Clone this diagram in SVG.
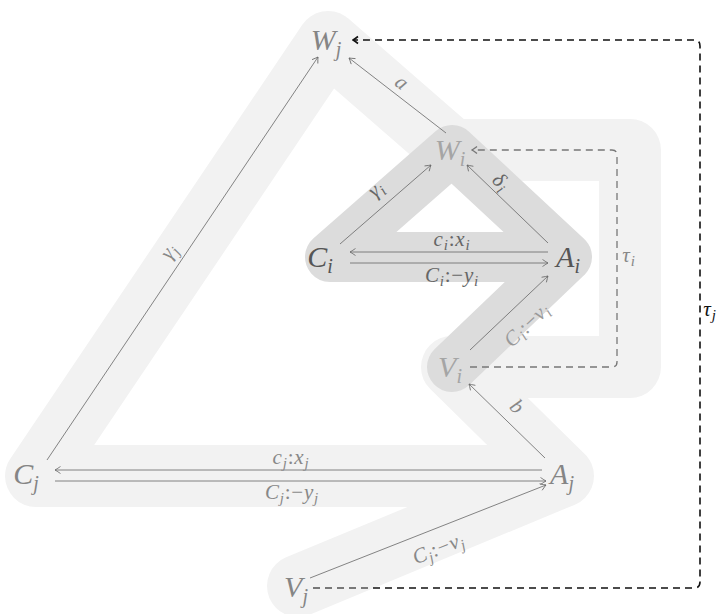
<svg xmlns="http://www.w3.org/2000/svg" width="719" height="614" viewBox="0 0 719 614">
<style>
.bandL{fill:none;stroke:#f2f2f2;stroke-width:62;stroke-linejoin:round;stroke-linecap:round}
.bandD{fill:none;stroke:#dcdcdc;stroke-width:50;stroke-linejoin:round;stroke-linecap:round}
.e{fill:none;stroke:#666;stroke-width:0.8;marker-end:url(#ah)}
.nd{font-family:"Liberation Serif","Times New Roman",serif;font-style:italic;font-size:30px;text-anchor:middle}
.lb{font-family:"Liberation Serif","Times New Roman",serif;font-size:21px;letter-spacing:0.8px;text-anchor:middle}
.it{font-style:italic}
.s{font-size:15px;font-style:italic}
.ns{font-size:20px}
</style>
<defs>
<marker id="ah" viewBox="-7 -5 8 10" markerWidth="8" markerHeight="10" refX="0" refY="0" orient="auto" markerUnits="userSpaceOnUse">
<path d="M-5.5,-3.5 Q-1.5,-0.8 0,0 Q-1.5,0.8 -5.5,3.5" fill="none" stroke="#666" stroke-width="0.8"/>
</marker>
<marker id="ahk" viewBox="-7 -5 8 10" markerWidth="8" markerHeight="10" refX="0" refY="0" orient="auto" markerUnits="userSpaceOnUse">
<path d="M-5,-3.5 Q-1.5,-0.8 0,0 Q-1.5,0.8 -5,3.5" fill="none" stroke="#111" stroke-width="1.6"/>
</marker>
<marker id="ahg" viewBox="-7 -5 8 10" markerWidth="8" markerHeight="10" refX="0" refY="0" orient="auto" markerUnits="userSpaceOnUse">
<path d="M-5,-3.5 Q-1.5,-0.8 0,0 Q-1.5,0.8 -5,3.5" fill="none" stroke="#777" stroke-width="1.4"/>
</marker>
</defs>

<g id="bands">
<path class="bandL" d="M298,586 L563,476 L36,476 L328,42 L452,150 L630,150 L630,367 L452,367 L563,476"/>
<path class="bandD" d="M452,150 L330,257 L567,257 Z M567,257 L452,367"/>
</g>

<g id="connectors">
<path class="e" d="M47,460 L318,57"/>
<path class="e" d="M446,133 L349,58"/>
<path class="e" d="M340,244 L431,165"/>
<path class="e" d="M548,243 L467,165"/>
<path class="e" d="M548,252 L350,252"/>
<path class="e" d="M350,263 L548,263"/>
<path class="e" d="M470,350 L548,276"/>
<path class="e" d="M545,458 L469,384"/>
<path class="e" d="M542,470 L55,470"/>
<path class="e" d="M55,481 L546,481"/>
<path class="e" d="M310,578 L546,485"/>
<path d="M470,367 H612 Q617,367 617,362 V155 Q617,150 612,150 H472" fill="none" stroke="#777" stroke-width="1.3" stroke-dasharray="7,5" marker-end="url(#ahg)"/>
<path d="M313,588 H694 Q700,588 700,582 V46 Q700,40 694,40 H353" fill="none" stroke="#111" stroke-width="1.6" stroke-dasharray="7,5" marker-end="url(#ahk)"/>
<path d="M313,588 H372" fill="none" stroke="#888" stroke-width="1.7" stroke-dasharray="7,5"/>
</g>

<g id="labels">
<text class="lb" fill="#888" transform="translate(170,252) rotate(-56)" y="5"><tspan class="it">γ</tspan><tspan class="s" dy="4">j</tspan></text>
<text class="lb" fill="#888" transform="translate(401,84) rotate(37.7)" y="5"><tspan class="it">a</tspan></text>
<text class="lb" fill="#666" transform="translate(377,190) rotate(-41)" y="5"><tspan class="it">γ</tspan><tspan class="s" dy="4">i</tspan></text>
<text class="lb" fill="#666" transform="translate(500,183) rotate(44)" y="5"><tspan class="it">δ</tspan><tspan class="s" dy="4">i</tspan></text>
<text class="lb" fill="#666" x="452" y="246"><tspan class="it">c</tspan><tspan class="s" dy="4">i</tspan><tspan dy="-4">:</tspan><tspan class="it">x</tspan><tspan class="s" dy="4">i</tspan></text>
<text class="lb" fill="#666" x="452" y="282"><tspan class="it">C</tspan><tspan class="s" dy="4">i</tspan><tspan dy="-4">:−</tspan><tspan class="it">y</tspan><tspan class="s" dy="4">i</tspan></text>
<text class="lb" fill="#999" transform="translate(528,326) rotate(-43.5)" y="5"><tspan class="it">C</tspan><tspan class="s" dy="4">i</tspan><tspan dy="-4">:−</tspan><tspan class="it">v</tspan><tspan class="s" dy="4">i</tspan></text>
<text class="lb" fill="#888" transform="translate(516,408) rotate(44)" y="5"><tspan class="it">b</tspan></text>
<text class="lb" fill="#888" x="291" y="464"><tspan class="it">c</tspan><tspan class="s" dy="4">j</tspan><tspan dy="-4">:</tspan><tspan class="it">x</tspan><tspan class="s" dy="4">j</tspan></text>
<text class="lb" fill="#888" x="292" y="499"><tspan class="it">C</tspan><tspan class="s" dy="4">j</tspan><tspan dy="-4">:−</tspan><tspan class="it">y</tspan><tspan class="s" dy="4">j</tspan></text>
<text class="lb" fill="#888" transform="translate(439,550) rotate(-21.5)" y="5"><tspan class="it">C</tspan><tspan class="s" dy="4">j</tspan><tspan dy="-4">:−</tspan><tspan class="it">v</tspan><tspan class="s" dy="4">j</tspan></text>
<text class="lb" fill="#888" x="629" y="262"><tspan class="it">τ</tspan><tspan class="s" dy="4">i</tspan></text>
<text class="lb" fill="#111" x="710" y="316"><tspan class="it">τ</tspan><tspan class="s" dy="4">j</tspan></text>
</g>

<g id="nodes">
<g id="Wj"><text class="nd" fill="#858585" x="326" y="50">W<tspan class="ns" dy="6">j</tspan></text></g>
<g id="Wi"><text class="nd" fill="#a5a5a5" x="450" y="160">W<tspan class="ns" dy="6">i</tspan></text></g>
<g id="Ci"><text class="nd" fill="#555" x="320" y="267">C<tspan class="ns" dy="6">i</tspan></text></g>
<g id="Ai"><text class="nd" fill="#555" x="568" y="267">A<tspan class="ns" dy="6">i</tspan></text></g>
<g id="Vi"><text class="nd" fill="#a5a5a5" x="450" y="377">V<tspan class="ns" dy="6">i</tspan></text></g>
<g id="Cj"><text class="nd" fill="#858585" x="26" y="484">C<tspan class="ns" dy="6">j</tspan></text></g>
<g id="Aj"><text class="nd" fill="#858585" x="562" y="484">A<tspan class="ns" dy="6">j</tspan></text></g>
<g id="Vj"><text class="nd" fill="#858585" x="296" y="597">V<tspan class="ns" dy="6">j</tspan></text></g>
</g>
</svg>
